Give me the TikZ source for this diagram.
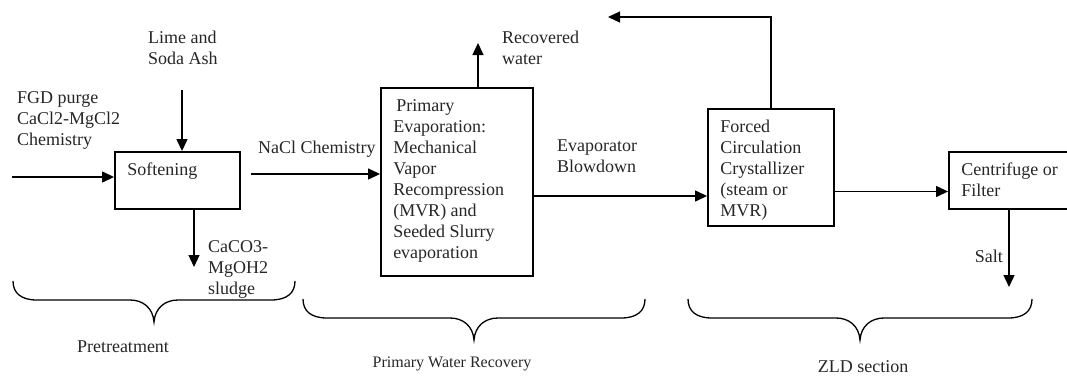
\documentclass[tikz,border=0pt]{standalone}
\usepackage{fontspec}
\setmainfont{Liberation Serif}
\usetikzlibrary{arrows.meta,calc}
% section brace: left x, right x, top y
\newcommand{\secbrace}[3]{%
	\draw[brc] (#1,#3) .. controls (#1,#3+12) and (#1+8,#3+19) .. (#1+24,#3+19)
		-- ({(#1+#2)/2-24},#3+19) .. controls ({(#1+#2)/2-11},#3+19) and ({(#1+#2)/2-1},#3+27) .. ({(#1+#2)/2},#3+41)
		.. controls ({(#1+#2)/2+1},#3+27) and ({(#1+#2)/2+11},#3+19) .. ({(#1+#2)/2+24},#3+19)
		-- (#2-24,#3+19) .. controls (#2-8,#3+19) and (#2,#3+12) .. (#2,#3);}

\begin{document}
\begin{tikzpicture}[x=1pt,y=-1pt,
	every node/.style={font=\fontsize{18}{21}\selectfont, text=black!85},
	unit/.style={draw, line width=1.9pt, inner sep=0pt},
	intext/.style={anchor=north west, inner sep=0pt, align=left, xshift=13pt, yshift=-12pt},
	lbl/.style={anchor=north west, inner sep=0pt, align=left},
	flow/.style={line width=1.3pt, -{Triangle[length=12pt,width=11pt]}},
	brc/.style={line width=1.3pt}]
	\clip (0,0) rectangle (1067,376);

	% process units
	\node[unit, minimum width=125pt, minimum height=57pt] (soft) at (177.5,180.5) {};
	\node[unit, minimum width=152pt, minimum height=188pt] (prim) at (457,182) {};
	\node[unit, minimum width=126pt, minimum height=117pt] (crys) at (771,167.5) {};
	\node[unit, minimum width=131pt, minimum height=57pt] (cent) at (1014.5,180.5) {};

	\node[intext] (softtxt) at (soft.north west) {Softening};
	\node[intext] (primtxt) at (prim.north west) {\hspace*{3pt}Primary\\Evaporation:\\Mechanical\\Vapor\\Recompression\\(MVR) and\\Seeded Slurry\\evaporation};
	\node[intext] (crystxt) at (crys.north west) {Forced\\Circulation\\Crystallizer\\(steam or\\MVR)};
	\node[intext] (centtxt) at (cent.north west) {Centrifuge or\\Filter};

	% free ends
	\coordinate (feed) at (12,177);
	\coordinate (lime) at (182,90);
	\coordinate (sludge) at (194,267);
	\coordinate (nacl) at (251,174);
	\coordinate (water) at (478,43);
	\coordinate (recyc) at (608,17);
	\coordinate (salt) at (1009,287);

	% streams
	\draw[flow] (feed) -- (feed -| soft.west);
	\draw[flow] (lime) -- (lime |- soft.north);
	\draw[flow] (sludge |- soft.south) -- (sludge);
	\draw[flow] (nacl) -- (nacl -| prim.west);
	\draw[flow] (water |- prim.north) -- (water);
	\draw[flow] ([yshift=-14pt]prim.east) -- ([yshift=-14pt]prim.east -| crys.west);
	\draw[flow] (crys.north) -- (crys.north |- recyc) -- (recyc);
	\draw[flow] ([yshift=-24pt]crys.east) -- ([yshift=-24pt]crys.east -| cent.west);
	\draw[flow] (salt |- cent.south) -- (salt);

	% stream labels
	\node[lbl] (limetxt) at (148,30.5) {Lime and\\Soda Ash};
	\node[lbl] (feedtxt) at (17,91.5) {FGD purge\\CaCl2-MgCl2\\Chemistry};
	\node[lbl] (sludgetxt) at (208,240.5) {CaCO3-\\MgOH2\\sludge};
	\node[lbl] (nacltxt) at (258,140.5) {NaCl Chemistry};
	\node[lbl] (watertxt) at (502,30.5) {Recovered\\water};
	\node[lbl] (bdtxt) at (557,139.5) {Evaporator\\Blowdown};
	\node[anchor=base east, inner sep=0pt] (salttxt) at (1003,262) {Salt};

	% sections
	\secbrace{13}{295}{281}
	\secbrace{303}{645}{299}
	\secbrace{688}{1032}{299}
	\node[anchor=base, inner sep=0pt] (pretxt) at (123,352) {Pretreatment};
	\node[anchor=base, inner sep=0pt, font=\fontsize{16}{19}\selectfont] (pwrtxt) at (452,367) {Primary Water Recovery};
	\node[anchor=base, inner sep=0pt] (zldtxt) at (863,372) {ZLD section};
\end{tikzpicture}
\end{document}
